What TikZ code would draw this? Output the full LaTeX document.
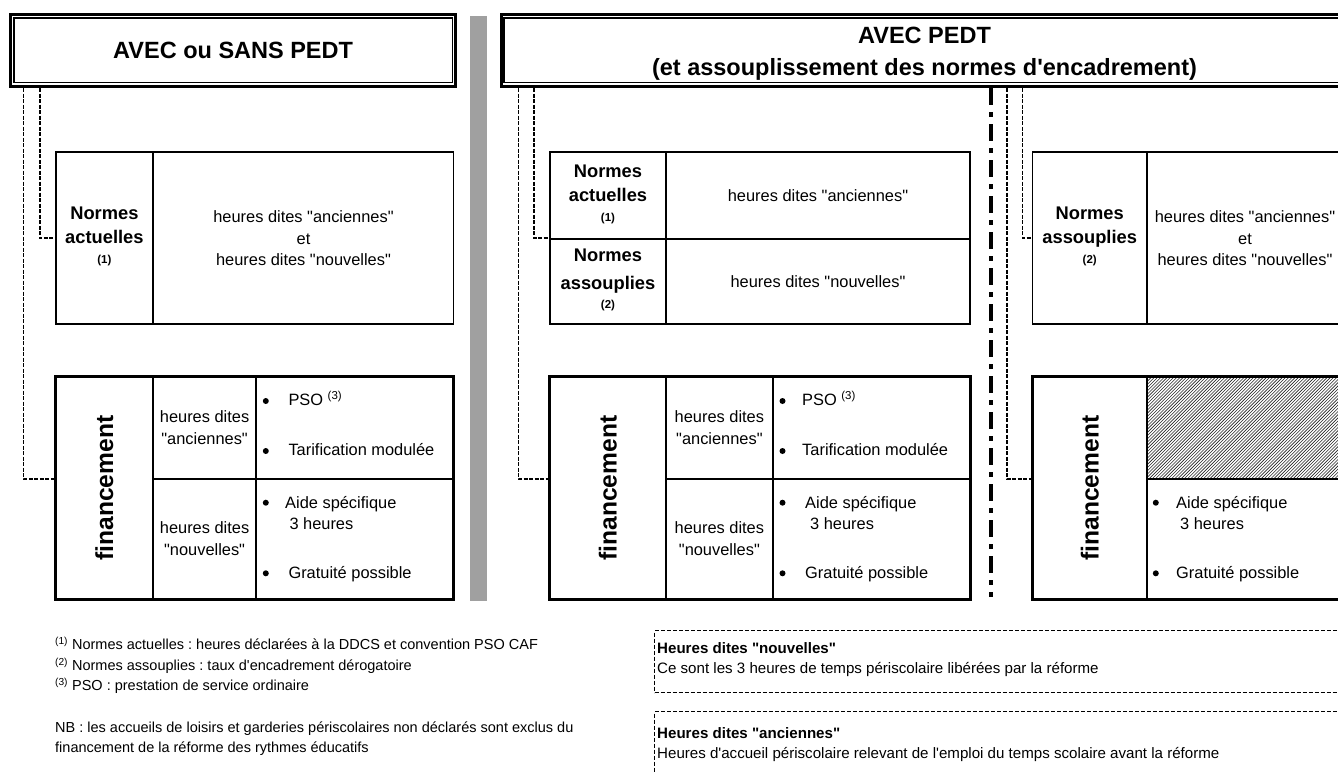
\documentclass[tikz,border=0pt]{standalone}
\usepackage{fontspec}
\newfontfamily\ar{Liberation Sans}
\usetikzlibrary{calc}
\definecolor{barcol}{RGB}{160,160,160}
\frenchspacing
\begin{document}
\begin{tikzpicture}[x=1pt,y=-1pt,
  hdr/.style={draw, line width=2.6pt, inner sep=0pt, font=\ar\bfseries\fontsize{23.5}{32}\selectfont, align=center},
  hdrin/.style={line width=1.3pt},
  nbox/.style={draw, line width=1.6pt, inner sep=0pt},
  fbox/.style={draw, line width=3pt, inner sep=0pt},
  nline/.style={line width=1.6pt},
  fline/.style={line width=1.8pt},
  conn/.style={line width=1.5pt, dash pattern=on 4pt off 1.5pt},
  sepline/.style={line width=4pt, dash pattern=on 17pt off 7pt on 5pt off 7pt},
  lab/.style={font=\ar\bfseries\fontsize{18.3}{24.5}\selectfont, align=center, inner sep=0pt},
  txt/.style={font=\ar\fontsize{16.4}{21.7}\selectfont, align=center, inner sep=0pt},
  item/.style={font=\ar\fontsize{16.4}{20}\selectfont, anchor=base west, inner sep=0pt},
  dot/.style={fill=black},
  fin/.style={font=\ar\bfseries\fontsize{24.6}{28}\selectfont, rotate=90, inner sep=0pt},
  foot/.style={font=\ar\frenchspacing\fontsize{14.5}{18}\selectfont, anchor=base west, inner sep=0pt},
  legt/.style={font=\ar\frenchspacing\fontsize{15.1}{18}\selectfont, anchor=base west, inner sep=0pt},
  legb/.style={legt, font=\ar\frenchspacing\bfseries\fontsize{15.1}{18}\selectfont},
  leg/.style={draw, line width=1.2pt, dash pattern=on 4pt off 2pt, inner sep=0pt, anchor=north west},
]
\useasboundingbox (0,0) rectangle (1338,772);
\clip (0,0) rectangle (1338,772);
\newcommand\sml[1]{{\fontsize{11.5}{12}\selectfont #1}}

% gray separator bar
\fill[barcol] (470,16) rectangle (487,601);

% headers
\node[hdr, minimum width=444.8pt, minimum height=72.4pt] (h1) at (233.1,50.5) {AVEC ou SANS PEDT};
\draw[hdrin] (14,18) rectangle (452.5,82.3);
\node[hdr, minimum width=846.4pt, minimum height=72.4pt] (h2) at (924.5,50.5) {};
\node[hdr, draw=none] (h2t) at (924.5,53.5) {AVEC PEDT\\(et assouplissement des normes d'encadrement)};
\draw[hdrin] (504,18) rectangle (1344,82.3);

% hatch in right financement box
\begin{scope}
\clip (1147,376.7) rectangle (1343,478.8);
\foreach \i in {0,3.2,...,330} \draw[line width=0.6pt, black!85] (1147-110+\i,478.8) -- ++(110,-110);
\end{scope}

% ---------- left section ----------
\node[nbox, minimum width=397.8pt, minimum height=171.6pt] (n1) at (254.7,238) {};
\draw[nline] (153,152.2) -- (153,323.8);
\node[fbox, minimum width=397.6pt, minimum height=222.6pt] (f1) at (254.6,488) {};
\draw[fline] (153,376.7) -- (153,599.3);
\draw[fline] (256.2,376.7) -- (256.2,599.3);
\draw[fline] (153,478.8) -- (453.4,478.8);

\node[lab] (n1a) at (104.4,236) {Normes\\actuelles\\[-5pt]\sml{(1)}};
\node[txt] (n1b) at (303.5,238.3) {heures dites "anciennes"\\et\\heures dites "nouvelles"};
\node[fin] (f1a) at (104.4,488) {financement};
\node[txt] (f1b) at (204.6,427.5) {heures dites\\"anciennes"};
\node[txt] (f1c) at (204.6,538.5) {heures dites\\"nouvelles"};
\fill[dot] (265.8,401) circle (3pt);
\fill[dot] (265.8,451) circle (3pt);
\fill[dot] (265.8,502.7) circle (3pt);
\fill[dot] (265.8,573.3) circle (3pt);
\node[item] (f1d) at (288.3,405.9) {PSO \textsuperscript{(3)}};
\node[item] (f1e) at (288.3,455.9) {Tarification modulée};
\node[item] (f1f) at (285,508.2) {Aide spécifique};
\node[item] (f1g) at (289.3,529.2) {3 heures};
\node[item] (f1h) at (288.3,578.2) {Gratuité possible};

\coordinate (c1) at (23.7,0);
\coordinate (c2) at (39.8,0);
\coordinate (f1m) at (55.8,478.8);
\draw[conn] (c2 |- h1.south) |- (n1.west);
\draw[conn] (c1 |- h1.south) |- (f1m);

% ---------- middle section ----------
\node[nbox, minimum width=420.2pt, minimum height=171.6pt] (n2) at (760.1,238) {};
\draw[nline] (666,152.2) -- (666,323.8);
\draw[nline] (550,238.7) -- (970.2,238.7);
\node[fbox, minimum width=420.4pt, minimum height=222.6pt] (f2) at (760,488) {};
\draw[fline] (666,376.7) -- (666,599.3);
\draw[fline] (772.7,376.7) -- (772.7,599.3);
\draw[fline] (666,478.8) -- (970,478.8);

\node[lab] (n2a) at (608,194) {Normes\\actuelles\\[-5pt]\sml{(1)}};
\node[lab] (n2b) at (608,280) {Normes\\[3pt]assouplies\\[-5pt]\sml{(2)}};
\node[txt] (n2c) at (818,195.5) {heures dites "anciennes"};
\node[txt] (n2d) at (818,281.3) {heures dites "nouvelles"};
\node[fin] (f2a) at (607.9,488) {financement};
\node[txt] (f2b) at (719.4,427.5) {heures dites\\"anciennes"};
\node[txt] (f2c) at (719.4,538.5) {heures dites\\"nouvelles"};
\fill[dot] (782.5,401) circle (3pt);
\fill[dot] (782.5,451) circle (3pt);
\fill[dot] (782.5,502.7) circle (3pt);
\fill[dot] (782.5,573.3) circle (3pt);
\node[item] (f2d) at (802,405.9) {PSO \textsuperscript{(3)}};
\node[item] (f2e) at (802,455.9) {Tarification modulée};
\node[item] (f2f) at (805,508.2) {Aide spécifique};
\node[item] (f2g) at (810,529.2) {3 heures};
\node[item] (f2h) at (805,578.2) {Gratuité possible};

\coordinate (c3) at (518.3,0);
\coordinate (c4) at (534.2,0);
\coordinate (f2m) at (549.8,478.8);
\draw[conn] (c4 |- h2.south) |- (n2.west);
\draw[conn] (c3 |- h2.south) |- (f2m);

% dash-dot separator
\coordinate (s1) at (990.7,88);
\coordinate (s2) at (990.7,597);
\draw[sepline] (s1) -- (s2);

% ---------- right section ----------
\node[nbox, minimum width=310.5pt, minimum height=171.6pt] (n3) at (1187.75,238) {};
\draw[nline] (1147,152.2) -- (1147,323.8);
\node[fbox, minimum width=310.5pt, minimum height=222.6pt] (f3) at (1187.75,488) {};
\draw[fline] (1147,376.7) -- (1147,599.3);
\draw[fline] (1147,478.8) -- (1343,478.8);

\node[lab] (n3a) at (1089.7,236) {Normes\\assouplies\\[-5pt]\sml{(2)}};
\node[txt] (n3b) at (1245,238.3) {heures dites "anciennes"\\et\\heures dites "nouvelles"};
\node[fin] (f3a) at (1089.7,488) {financement};
\fill[dot] (1155.8,502.7) circle (3pt);
\fill[dot] (1155.8,573.3) circle (3pt);
\node[item] (f3f) at (1176,508.2) {Aide spécifique};
\node[item] (f3g) at (1180,529.2) {3 heures};
\node[item] (f3h) at (1176,578.2) {Gratuité possible};

\coordinate (c5) at (1006.8,0);
\coordinate (c6) at (1022.5,0);
\coordinate (f3m) at (1032.5,478.8);
\draw[conn] (c6 |- h2.south) |- (n3.west);
\draw[conn] (c5 |- h2.south) |- (f3m);

% ---------- footnotes ----------
\node[foot] (fn1) at (55,649.3) {\textsuperscript{(1)} Normes actuelles : heures déclarées à la DDCS et convention PSO CAF};
\node[foot] (fn2) at (55,670.3) {\textsuperscript{(2)} Normes assouplies : taux d'encadrement dérogatoire};
\node[foot] (fn3) at (55,690.3) {\textsuperscript{(3)} PSO : prestation de service ordinaire};
\node[foot] (fn4) at (55,732) {NB : les accueils de loisirs et garderies périscolaires non déclarés sont exclus du};
\node[foot] (fn5) at (55,752) {financement de la réforme des rythmes éducatifs};

% ---------- legend boxes ----------
\node[leg, minimum width=700pt, minimum height=62pt] (lg1) at (654,630) {};
\node[legb] (lg1a) at (657,653.5) {Heures dites "nouvelles"};
\node[legt] (lg1b) at (657,673.5) {Ce sont les 3 heures de temps périscolaire libérées par la réforme};
\node[leg, minimum width=700pt, minimum height=80pt] (lg2) at (654,711) {};
\node[legb] (lg2a) at (657,738.5) {Heures dites "anciennes"};
\node[legt] (lg2b) at (657,758.5) {Heures d'accueil périscolaire relevant de l'emploi du temps scolaire avant la réforme};
\end{tikzpicture}
\end{document}
